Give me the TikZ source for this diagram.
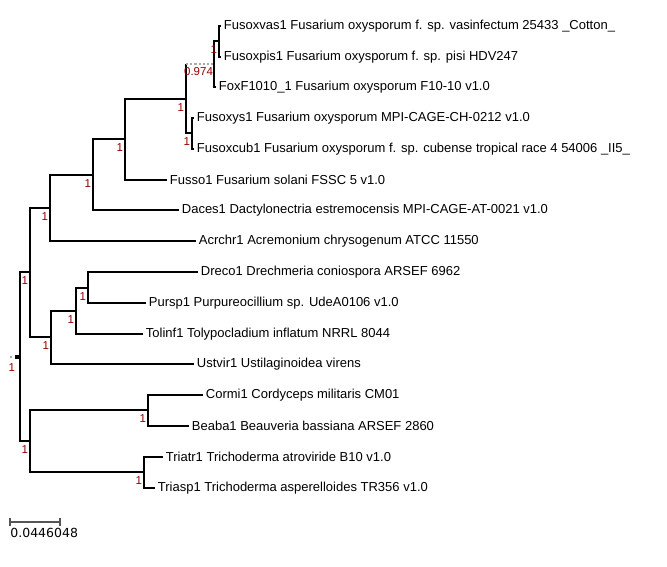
\documentclass[tikz,border=0pt]{standalone}
\usepackage{fontspec}
\setmainfont{Liberation Sans}
\newfontfamily\barfont{DejaVu Sans}
\usetikzlibrary{positioning}
\definecolor{suppred}{RGB}{150,0,0}
\definecolor{dotgray}{RGB}{170,170,170}
\definecolor{bargray}{RGB}{85,85,85}
\tikzstyle{leafnode}=[draw=none,fill=none,anchor=west,inner sep=0pt,inner xsep=2.5pt,font=\fontsize{13}{15}\selectfont]
\tikzstyle{supnode}=[draw=none,fill=none,inner sep=0pt,text=suppred,font=\fontsize{11.5}{13}\selectfont]
\tikzstyle{branch}=[line width=2.6pt,black]
\tikzstyle{zerobranch}=[line width=2.2pt,dotgray,dotted]
\tikzstyle{scalebar}=[line width=2pt,bargray]
\tikzstyle{scalelabel}=[draw=none,fill=none,inner sep=0pt,font=\barfont\fontsize{12.5}{14}\selectfont]
\begin{document}
\begin{tikzpicture}[x=1pt,y=-1pt,thick]
\useasboundingbox (0,0) rectangle (667,566);
\node[leafnode] (vas) at (221,26) {Fusoxvas1 Fusarium oxysporum f. sp. vasinfectum 25433 \_Cotton\_};
\node[leafnode] (pis) at (221,57) {Fusoxpis1 Fusarium oxysporum f. sp. pisi HDV247};
\node[leafnode] (foxf) at (216,87) {FoxF1010\_1 Fusarium oxysporum F10-10 v1.0};
\node[leafnode] (oxys) at (194,118) {Fusoxys1 Fusarium oxysporum MPI-CAGE-CH-0212 v1.0};
\node[leafnode] (cub) at (194,149) {Fusoxcub1 Fusarium oxysporum f. sp. cubense tropical race 4 54006 \_II5\_};
\node[leafnode] (fusso) at (167,180) {Fusso1 Fusarium solani FSSC 5 v1.0};
\node[leafnode] (daces) at (179,210) {Daces1 Dactylonectria estremocensis MPI-CAGE-AT-0021 v1.0};
\node[leafnode] (acrchr) at (196,241) {Acrchr1 Acremonium chrysogenum ATCC 11550};
\node[leafnode] (dreco) at (198,272) {Dreco1 Drechmeria coniospora ARSEF 6962};
\node[leafnode] (pursp) at (146,303) {Pursp1 Purpureocillium sp. UdeA0106 v1.0};
\node[leafnode] (tolinf) at (143,334) {Tolinf1 Tolypocladium inflatum NRRL 8044};
\node[leafnode] (ustvir) at (194,364) {Ustvir1 Ustilaginoidea virens};
\node[leafnode] (cormi) at (203,395) {Cormi1 Cordyceps militaris CM01};
\node[leafnode] (beaba) at (189,426) {Beaba1 Beauveria bassiana ARSEF 2860};
\node[leafnode] (triatr) at (163,457) {Triatr1 Trichoderma atroviride B10 v1.0};
\node[leafnode] (triasp) at (155,488) {Triasp1 Trichoderma asperelloides TR356 v1.0};
\coordinate (foxvp) at (219,41);
\coordinate (foxff) at (214,64);
\coordinate (foxyc) at (192,133);
\coordinate (foxy) at (186,99);
\coordinate (fussol) at (125,139);
\coordinate (nectria) at (93,175);
\coordinate (hypo) at (50,208);
\coordinate (ophiodp) at (88,288);
\coordinate (ophiotp) at (76,311);
\coordinate (ophio) at (51,337);
\coordinate (upper) at (30,272);
\coordinate (cormbea) at (148,410);
\coordinate (trich) at (144,472);
\coordinate (lower) at (30,441);
\coordinate (root) at (20,357);
\draw[branch] (foxvp) |- (vas.west);
\draw[branch] (foxvp) |- (pis.west);
\draw[branch] (foxff) |- (foxvp);
\draw[branch] (foxff) |- (foxf.west);
\draw[branch] (foxyc) |- (oxys.west);
\draw[branch] (foxyc) |- (cub.west);
\draw[branch] (foxy) -- (foxy |- foxff);
\draw[zerobranch] (foxy |- foxff) -- (foxff);
\draw[branch] (foxy) |- (foxyc);
\draw[branch] (fussol) |- (foxy);
\draw[branch] (fussol) |- (fusso.west);
\draw[branch] (nectria) |- (fussol);
\draw[branch] (nectria) |- (daces.west);
\draw[branch] (hypo) |- (nectria);
\draw[branch] (hypo) |- (acrchr.west);
\draw[branch] (ophiodp) |- (dreco.west);
\draw[branch] (ophiodp) |- (pursp.west);
\draw[branch] (ophiotp) |- (ophiodp);
\draw[branch] (ophiotp) |- (tolinf.west);
\draw[branch] (ophio) |- (ophiotp);
\draw[branch] (ophio) |- (ustvir.west);
\draw[branch] (upper) |- (hypo);
\draw[branch] (upper) |- (ophio);
\draw[branch] (cormbea) |- (cormi.west);
\draw[branch] (cormbea) |- (beaba.west);
\draw[branch] (trich) |- (triatr.west);
\draw[branch] (trich) |- (triasp.west);
\draw[branch] (lower) |- (cormbea);
\draw[branch] (lower) |- (trich);
\draw[branch] (root) |- (upper);
\draw[branch] (root) |- (lower);
\fill[dotgray] (10,356) rectangle (12,358);
\fill[black] (15,355) rectangle (19,359);
\node[supnode, below left=4pt and 1.5pt of foxvp] (sfoxvp) {1};
\node[supnode, below left=3pt and 0.7pt of foxff] (sfoxff) {0.974};
\node[supnode, below left=4pt and 1.5pt of foxyc] (sfoxyc) {1};
\node[supnode, below left=4pt and 1.5pt of foxy] (sfoxy) {1};
\node[supnode, below left=4pt and 1.5pt of fussol] (sfussol) {1};
\node[supnode, below left=4pt and 1.5pt of nectria] (snectria) {1};
\node[supnode, below left=4pt and 1.5pt of hypo] (shypo) {1};
\node[supnode, below left=4pt and 1.5pt of ophiodp] (sophiodp) {1};
\node[supnode, below left=4pt and 1.5pt of ophiotp] (sophiotp) {1};
\node[supnode, below left=4pt and 1.5pt of ophio] (sophio) {1};
\node[supnode, below left=4pt and 1.5pt of upper] (supper) {1};
\node[supnode, below left=4pt and 1.5pt of cormbea] (scormbea) {1};
\node[supnode, below left=4pt and 1.5pt of trich] (strich) {1};
\node[supnode, below left=4pt and 1.5pt of lower] (slower) {1};
\node[supnode, below left=6pt and 4.5pt of root] (sroot) {1};
\coordinate (barl) at (10,522);
\coordinate (barr) at (60,522);
\draw[scalebar] (barl) -- (barr);
\draw[scalebar] ([yshift=4pt]barl) -- ([yshift=-4pt]barl);
\draw[scalebar] ([yshift=4pt]barr) -- ([yshift=-4pt]barr);
\node[scalelabel, below right=6pt and 0pt of barl, anchor=north west] (barlabel) {0.0446048};
\end{tikzpicture}
\end{document}
